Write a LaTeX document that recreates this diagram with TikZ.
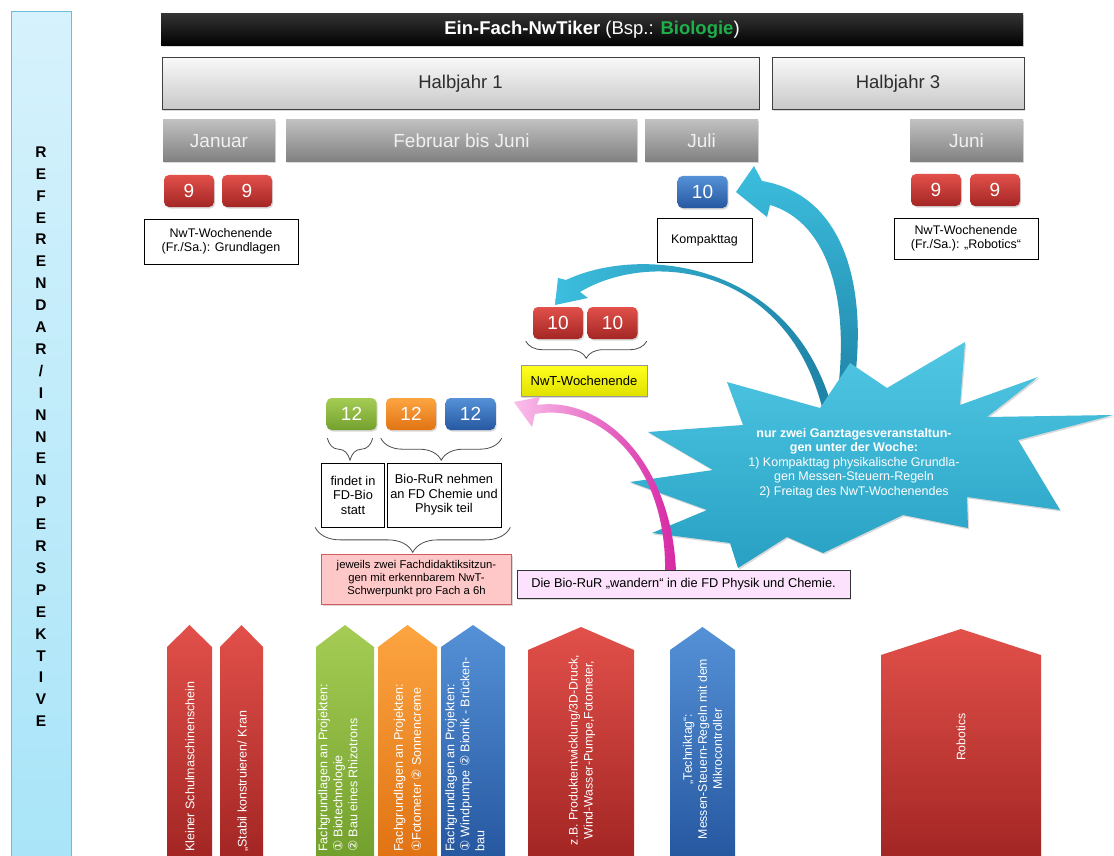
\documentclass[tikz,border=0pt]{standalone}
\usepackage{fontspec}
\setmainfont{Liberation Sans}
\newfontfamily\symfont{DejaVu Sans}
\usetikzlibrary{shadows,decorations.pathreplacing}
\definecolor{rtop}{RGB}{226,80,74}
\definecolor{rbot}{RGB}{163,38,36}
\definecolor{btop}{RGB}{85,145,215}
\definecolor{bbot}{RGB}{38,88,160}
\definecolor{gtop}{RGB}{165,205,85}
\definecolor{gbot}{RGB}{115,160,45}
\definecolor{otop}{RGB}{252,165,65}
\definecolor{obot}{RGB}{225,115,20}
\definecolor{mtop}{RGB}{192,192,192}
\definecolor{mbot}{RGB}{128,128,128}
\definecolor{mtext}{RGB}{240,240,240}
\definecolor{hjtop}{RGB}{248,248,248}
\definecolor{hjbot}{RGB}{200,200,200}
\definecolor{hjtext}{RGB}{45,45,45}
\definecolor{biogreen}{RGB}{30,175,75}
\definecolor{coltop}{RGB}{214,242,252}
\definecolor{colbot}{RGB}{168,228,248}
\definecolor{colline}{RGB}{105,190,220}
\definecolor{bursttop}{RGB}{80,200,228}
\definecolor{burstbot}{RGB}{40,160,195}
\definecolor{arrtop}{RGB}{60,190,222}
\definecolor{arrbot}{RGB}{30,130,165}
\definecolor{pinkfill}{RGB}{255,200,200}
\definecolor{pinkline}{RGB}{215,90,90}
\definecolor{lavfill}{RGB}{252,226,252}
\definecolor{magarr}{RGB}{215,40,165}
\definecolor{lightmag}{RGB}{250,190,235}
\definecolor{yeltop}{RGB}{255,255,30}
\definecolor{yelbot}{RGB}{225,225,0}
\begin{document}
\begin{tikzpicture}[x=1pt,y=-1pt,
  shadowed/.style={drop shadow={opacity=0.3,shadow xshift=1.2pt,shadow yshift=-1.5pt}},
  btn/.style={shadowed,rounded corners=5pt,minimum width=50pt,minimum height=32pt,inner sep=0pt,text=white,font=\fontsize{19}{20}\selectfont},
  redbtn/.style={btn,top color=rtop,bottom color=rbot},
  bluebtn/.style={btn,top color=btop,bottom color=bbot},
  greenbtn/.style={btn,top color=gtop,bottom color=gbot},
  orangebtn/.style={btn,top color=otop,bottom color=obot},
  monthbox/.style={shadowed,top color=mtop,bottom color=mbot,minimum height=42pt,inner sep=0pt,text=mtext,font=\fontsize{19}{20}\selectfont},
  hjbox/.style={shadowed,top color=hjtop,bottom color=hjbot,draw=black!75,line width=1pt,minimum height=52pt,inner sep=0pt,text=hjtext,font=\fontsize{18.5}{20}\selectfont},
  tbox/.style={draw=black,line width=0.7pt,fill=white,align=center,inner sep=0pt,font=\fontsize{12.5}{14}\selectfont},
  bracestyle/.style={decorate,draw=black!70,line width=0.8pt},
  ptext/.style={rotate=90,text=white,inner sep=0pt,font=\fontsize{12.5}{15}\selectfont},
  pillarred/.style={top color=rtop,bottom color=rbot},
  pillargreen/.style={top color=gtop,bottom color=gbot},
  pillarorange/.style={top color=otop,bottom color=obot},
  pillarblue/.style={top color=btop,bottom color=bbot}
]
\useasboundingbox (0,0) rectangle (1114,856);
\clip (0,0) rectangle (1114,856);
\fill[white] (0,0) rectangle (1114,856);

% left column
\shade[top color=coltop,bottom color=colbot] (11,12) rectangle (71,870);
\draw[colline,line width=1pt] (11,870) -- (11,12) -- (71,12) -- (71,870);
\foreach \ch [count=\i from 0] in {R,E,F,E,R,E,N,D,A,R,/,I,N,N,E,N,P,E,R,S,P,E,K,T,I,V,E}{
  \node[font=\fontsize{15.5}{16}\selectfont\bfseries,inner sep=0pt] (L\i) at (41,152+21.9*\i) {\ch};
}

% title and headers
\node[shadowed,top color=black!80,bottom color=black,minimum width=862pt,minimum height=32pt,inner sep=0pt,text=white,font=\fontsize{18.5}{20}\selectfont] (title) at (592,30)
  {\textbf{Ein-Fach-NwTiker} (Bsp.: \textcolor{biogreen}{\textbf{Biologie}})};
\node[hjbox,minimum width=597pt] (hj1) at (460.5,84) {Halbjahr 1};
\node[hjbox,minimum width=252pt] (hj3) at (898,84) {Halbjahr 3};
\node[monthbox,minimum width=112pt] (jan) at (219,141) {Januar};
\node[monthbox,minimum width=351pt] (feb) at (461.5,141) {Februar bis Juni};
\node[monthbox,minimum width=113pt] (jul) at (701.5,141) {Juli};
\node[monthbox,minimum width=113pt] (jun) at (966.5,141) {Juni};

% buttons
\node[redbtn] (r9a) at (189,191) {9};
\node[redbtn] (r9b) at (247,191) {9};
\node[redbtn] (r9c) at (936,190) {9};
\node[redbtn] (r9d) at (995,190) {9};
\node[bluebtn] (b10) at (702.5,192) {10};

\node[tbox,minimum width=154pt,minimum height=45pt] (t1) at (221,241.5) {NwT-Wochenende\\(Fr./Sa.): Grundlagen};
\node[tbox,minimum width=95pt,minimum height=44pt] (komp) at (704.5,240) {Kompakttag};
\node[tbox,minimum width=144pt,minimum height=41pt] (t3) at (966,238.5) {NwT-Wochenende\\(Fr./Sa.): „Robotics“};

% arrows (behind burst)
\coordinate (bigtip) at (736,192);
\coordinate (smalltip) at (555,305);
\shade[top color=arrtop,bottom color=arrbot]
  (754,166) -- (bigtip) -- (767,217) -- (770,205)
  .. controls (828,222) and (852,300) .. (836,405) -- (851,405)
  .. controls (872,290) and (845,195) .. (762,181) -- cycle;
\shade[left color=arrtop,right color=arrbot]
  (558,278) -- (smalltip) -- (588,298) -- (580,292)
  .. controls (650,250) and (785,265) .. (822,407) -- (832,407)
  .. controls (790,260) and (640,245) .. (566,280) -- cycle;

\node[redbtn] (r10a) at (558,323) {10};
\node[redbtn] (r10b) at (612.5,323) {10};
\draw[bracestyle,decoration={brace,mirror,amplitude=17pt}] ([xshift=-7pt,yshift=-2pt]r10a.south west) -- ([xshift=9pt,yshift=-2pt]r10b.south east);
\node[shadowed,top color=yeltop,bottom color=yelbot,draw=black!40,minimum width=126pt,minimum height=31pt,inner sep=0pt,font=\fontsize{13}{14}\selectfont] (yel) at (584,381) {NwT-Wochenende};

\node[greenbtn] (g12) at (351.5,414) {12};
\node[orangebtn] (o12) at (411,414) {12};
\node[bluebtn] (bl12) at (470.5,414) {12};
\draw[bracestyle,decoration={brace,mirror,amplitude=22pt}] ([xshift=1pt,yshift=-8pt]g12.south west) -- ([xshift=-4pt,yshift=-8pt]g12.south east);
\draw[bracestyle,decoration={brace,mirror,amplitude=22pt}] ([xshift=-5pt,yshift=-8pt]o12.south west) -- ([xshift=6pt,yshift=-8pt]bl12.south east);

\node[tbox,minimum width=63pt,minimum height=64pt,font=\fontsize{12.8}{14.5}\selectfont] (fd) at (353,495) {findet in\\FD-Bio\\statt};
\node[tbox,minimum width=114pt,minimum height=64pt,font=\fontsize{12.8}{14.5}\selectfont] (bio) at (444,495) {Bio-RuR nehmen\\an FD Chemie und\\Physik teil};
\draw[bracestyle,decoration={brace,mirror,amplitude=25pt}] ([xshift=-6pt,yshift=0pt]fd.south west) -- ([xshift=9pt,yshift=0pt]bio.south east);
\node[shadowed,draw=pinkline,fill=pinkfill,minimum width=190pt,minimum height=50pt,inner sep=0pt,align=center,font=\fontsize{11.3}{13}\selectfont] (pink) at (416.5,579) {jeweils zwei Fachdidaktiksitzun-\\gen mit erkennbarem NwT-\\Schwerpunkt pro Fach a 6h};

% starburst
\path[top color=bursttop,bottom color=burstbot,shadowed]
  (727,382) -- (820,408) -- (850,363) -- (887,388) -- (965,342) -- (960,405)
  -- (1038,377) -- (987,417) -- (1113,415) -- (1018,440) -- (1060,510)
  -- (967,497) -- (968,528) -- (903,515) -- (823,553) -- (787,537)
  -- (738,568) -- (730,543) -- (652,533) -- (707,510) -- (630,482)
  -- (713,470) -- (648,432) -- (743,425) -- cycle;
\node[text=white,align=center,inner sep=0pt,font=\fontsize{12.5}{14.6}\selectfont] (bursttext) at (854,463)
  {\textbf{nur zwei Ganztagesveranstaltun-}\\\textbf{gen unter der Woche:}\\1) Kompakttag physikalische Grundla-\\gen Messen-Steuern-Regeln\\2) Freitag des NwT-Wochenendes};

% pink arrow
\coordinate (pinktip) at (514,402);
\shade[left color=lightmag,right color=magarr]
  (pinktip) -- (532,427) -- (535,414)
  .. controls (603,402) and (667,468) .. (665,572) -- (676,572)
  .. controls (672,463) and (603,396) .. (537,405) -- (540,397) -- cycle;

\node[shadowed,draw=black!80,line width=0.8pt,fill=lavfill,minimum width=333pt,minimum height=28pt,inner sep=0pt,font=\fontsize{12.8}{14}\selectfont] (lav) at (683.5,584) {Die Bio-RuR „wandern“ in die FD Physik und Chemie.};

% pillars
\shade[pillarred] (167,856) -- (167,647) -- (189.5,625) -- (212,647) -- (212,856) -- cycle;
\shade[pillarred] (220,856) -- (220,647) -- (241.5,625) -- (263,647) -- (263,856) -- cycle;
\shade[pillargreen] (316,856) -- (316,647) -- (345,625) -- (374,647) -- (374,856) -- cycle;
\shade[pillarorange] (378,856) -- (378,647) -- (407.5,625) -- (437,647) -- (437,856) -- cycle;
\shade[pillarblue] (441,856) -- (441,647) -- (473,625) -- (505,647) -- (505,856) -- cycle;
\shade[pillarred] (528,856) -- (528,650) -- (581,627) -- (634,650) -- (634,856) -- cycle;
\shade[pillarblue] (670,856) -- (670,650) -- (702.5,627) -- (735,650) -- (735,856) -- cycle;
\shade[pillarred] (881,856) -- (881,655) -- (961,629) -- (1041,655) -- (1041,856) -- cycle;

\node[ptext,anchor=west] (p1t) at (190,852) {Kleiner Schulmaschinenschein};
\node[ptext,anchor=west] (p2t) at (243,852) {„Stabil konstruieren/ Kran};
\node[ptext,anchor=west,align=left] (p3t) at (338,852) {Fachgrundlagen an Projekten:\\{\symfont ①} Biotechnologie\\{\symfont ②} Bau eines Rhizotrons};
\node[ptext,anchor=west,align=left,font=\fontsize{12.5}{18}\selectfont] (p4t) at (407.5,852) {Fachgrundlagen an Projekten:\\{\symfont ①}Fotometer {\symfont ②} Sonnencreme};
\node[ptext,anchor=west,align=left] (p5t) at (465,852) {Fachgrundlagen an Projekten:\\{\symfont ①} Windpumpe {\symfont ②} Bionik - Brücken-\\bau};
\node[ptext,align=center,font=\fontsize{12.3}{15}\selectfont] (p6t) at (582,750) {z.B. Produktentwicklung/3D-Druck,\\Wind-Wasser-Pumpe,Fotometer,};
\node[ptext,align=center,font=\fontsize{12.3}{15}\selectfont] (p7t) at (702.5,749) {„Techniktag“:\\Messen-Steuern-Regeln mit dem\\Mikrocontroller};
\node[ptext,font=\fontsize{12.3}{15}\selectfont] (p8t) at (961,737) {Robotics};
\end{tikzpicture}
\end{document}
